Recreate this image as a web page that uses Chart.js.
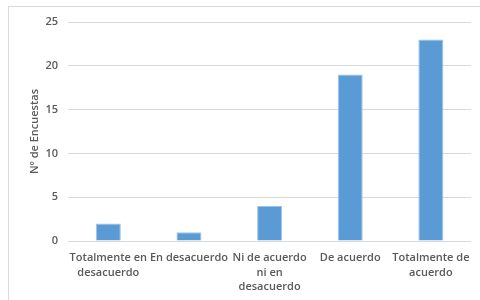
<!DOCTYPE html>
<html>
<head>
<meta charset="utf-8">
<script src="https://cdn.jsdelivr.net/npm/chart.js@4"></script>
<style>
  html, body { margin: 0; padding: 0; background: #fff; }
  #wrap { position: relative; width: 480px; height: 300px; }
  #frame { position: absolute; left: 8px; top: 6px; right: 0; bottom: 0; border-left: 1.5px solid #d9d9d9; border-top: 1.5px solid #d9d9d9; }
  canvas { position: absolute; left: 0; top: 0; }
</style>
</head>
<body>
<div id="wrap">
  <div id="frame"></div>
  <canvas id="chart" width="480" height="300"></canvas>
</div>
<script>
const categories = [
  ['Totalmente en', 'desacuerdo'],
  'En desacuerdo',
  ['Ni de acuerdo', 'ni en', 'desacuerdo'],
  'De acuerdo',
  ['Totalmente de', 'acuerdo']
];
const encuestas = [2, 1, 4, 19, 23];
const yTicks = [0, 5, 10, 15, 20, 25];

const textColor = '#595959';
const font = { family: 'Open Sans', size: 11, weight: '600', lineHeight: 1.3 };

new Chart(document.getElementById('chart'), {
  type: 'bar',
  data: {
    labels: categories,
    datasets: [{
      data: encuestas,
      backgroundColor: '#5b9bd5',
      borderColor: '#9dc3e6',
      borderWidth: { top: 1, left: 1, right: 1, bottom: 0 },
      categoryPercentage: 1,
      barPercentage: 0.31
    }]
  },
  options: {
    responsive: false,
    animation: false,
    layout: { padding: { left: 28, top: 22, right: 5, bottom: 0 } },
    plugins: { legend: { display: false }, tooltip: { enabled: false } },
    scales: {
      x: {
        afterFit: s => { s.height = 59; },
        grid: { display: false, drawTicks: false },
        border: { display: false },
        ticks: { color: textColor, font, padding: 10, maxRotation: 0, autoSkip: false }
      },
      y: {
        min: 0, max: 25,
        afterFit: s => { s.width = 40; },
        afterBuildTicks: s => { s.ticks = yTicks.map(v => ({ value: v })); },
        grid: { color: '#d9d9d9', lineWidth: 1, drawTicks: false },
        border: { display: false },
        ticks: { color: textColor, font, padding: 10 },
        title: { display: true, text: 'Nº de Encuestas', color: textColor, font, padding: 0 }
      }
    }
  }
});
</script>
</body>
</html>
